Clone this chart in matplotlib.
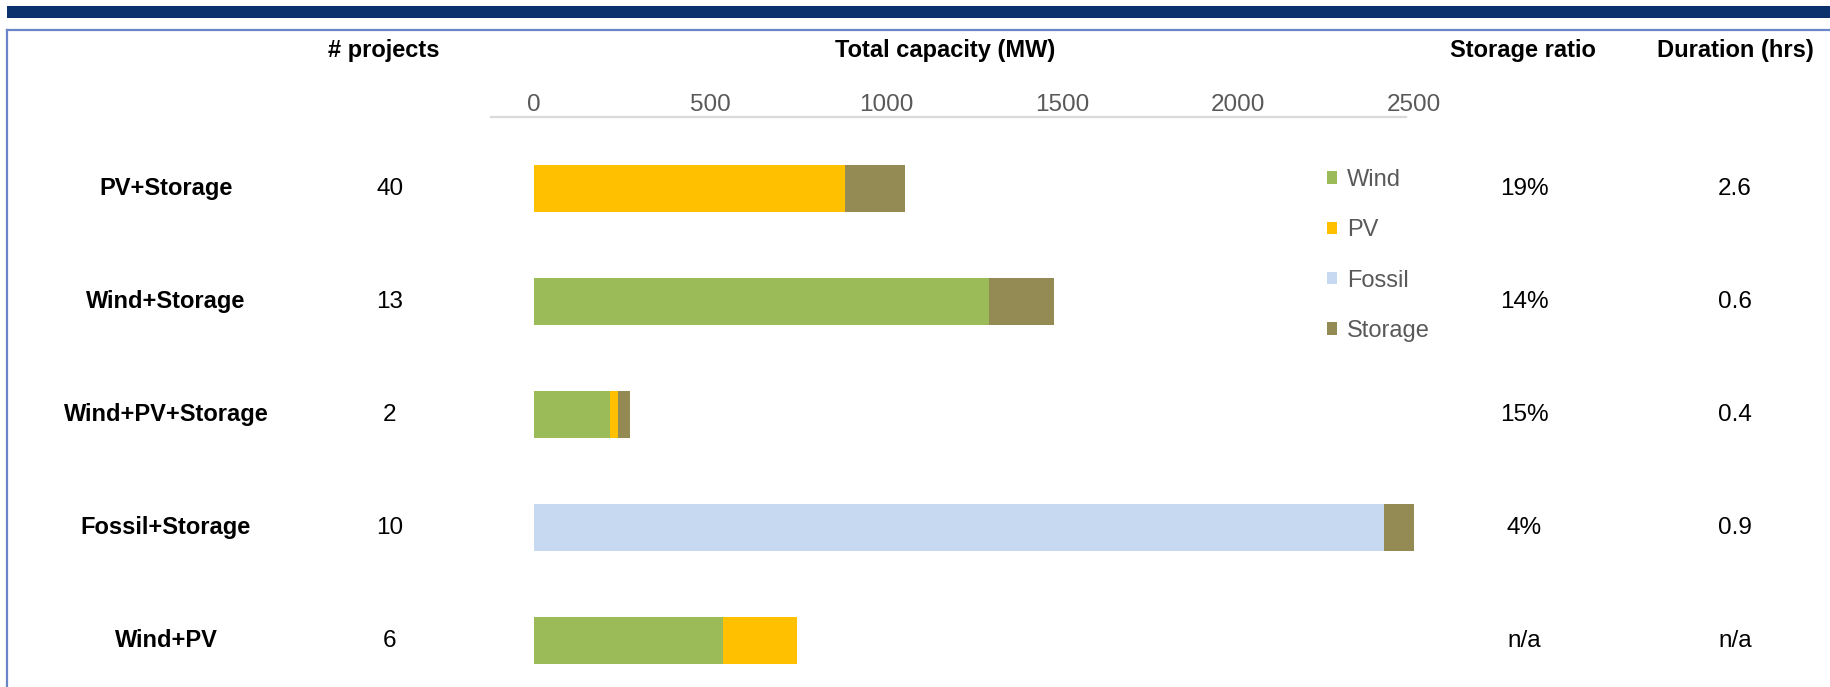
import numpy as np
import matplotlib
matplotlib.use("Agg")
import matplotlib.pyplot as plt
from matplotlib.lines import Line2D
from matplotlib.transforms import blended_transform_factory

plt.rcParams['font.family'] = ['Liberation Sans', 'DejaVu Sans']

# data
categories = ['PV+Storage', 'Wind+Storage', 'Wind+PV+Storage', 'Fossil+Storage', 'Wind+PV']
n_projects = [40, 13, 2, 10, 6]
wind = [0, 1292, 216, 0, 537]
pv = [883, 0, 22, 0, 210]
fossil = [0, 0, 0, 2415, 0]
storage = [170, 185, 34, 100, 0]
storage_ratio = ['19%', '14%', '15%', '4%', 'n/a']
duration = ['2.6', '0.6', '0.4', '0.9', 'n/a']
xticks = [0, 500, 1000, 1500, 2000, 2500]

series = [('Wind', wind, '#9BBB59'),
          ('PV', pv, '#FFC000'),
          ('Fossil', fossil, '#C6D9F1'),
          ('Storage', storage, '#948A54')]

W, H = 1830, 687
fig = plt.figure(figsize=(W / 100, H / 100), dpi=100)

def fx(px):
    return px / W

def fy(py):
    return 1 - py / H

# bar axes: 0 MW at x=534px, 2500 MW at x=1414px, top at the grey axis line
ax = fig.add_axes([fx(534), 0, fx(1414) - fx(534), fy(117)])
y = np.arange(len(categories))
left = np.zeros(len(categories))
for name, vals, color in series:
    vals = np.array(vals, dtype=float)
    ax.barh(y, vals, left=left, height=0.42, color=color, label=name, linewidth=0)
    left += vals

ax.set_xlim(0, 2500)
ax.set_ylim(4.41, -0.635)
ax.xaxis.tick_top()
ax.set_xticks(xticks)
ax.set_xticklabels([str(t) for t in xticks])
ax.tick_params(axis='x', length=0, pad=1, labelsize=17.5, labelcolor='#595959')
ax.set_yticks([])
for s in ax.spines.values():
    s.set_visible(False)
ax.patch.set_visible(False)

leg = ax.legend(loc='upper left', bbox_to_anchor=(fx(1327), fy(169)),
                bbox_transform=fig.transFigure, frameon=False, fontsize=17,
                handlelength=0.42, handleheight=0.42, handletextpad=0.42,
                labelspacing=1.2, borderpad=0, borderaxespad=0)
for t in leg.get_texts():
    t.set_color('#595959')

# table columns
tr = blended_transform_factory(fig.transFigure, ax.transData)
for i, cat in enumerate(categories):
    ax.text(fx(166), i, cat, transform=tr, ha='center', va='center',
            fontsize=17, fontweight='bold', color='black')
    ax.text(fx(390), i, str(n_projects[i]), transform=tr, ha='center', va='center',
            fontsize=17.5, color='black')
    ax.text(fx(1524), i, storage_ratio[i], transform=tr, ha='center', va='center',
            fontsize=17.5, color='black')
    ax.text(fx(1735), i, duration[i], transform=tr, ha='center', va='center',
            fontsize=17.5, color='black')

# headers
headers = [('# projects', 384), ('Total capacity (MW)', 945),
           ('Storage ratio', 1523), ('Duration (hrs)', 1735)]
for txt, px in headers:
    fig.text(fx(px), fy(51), txt, ha='center', va='center',
             fontsize=17, fontweight='bold', color='black')

# grey axis line
fig.add_artist(Line2D([fx(491), fx(1406)], [fy(117), fy(117)],
                      color='#D9D9D9', linewidth=1.6))

# dark band and frame
fig.add_artist(plt.Rectangle((fx(7), fy(17.5)), 1 - fx(7), fy(6) - fy(17.5),
                             transform=fig.transFigure, color='#0B326D', linewidth=0))
fig.add_artist(Line2D([fx(6.5), 1], [fy(29.5), fy(29.5)], color='#6A86C8', linewidth=1.6))
fig.add_artist(Line2D([fx(6.5), fx(6.5)], [fy(29.5), 0], color='#6A86C8', linewidth=1.6))

fig.savefig('out.png', dpi=100)
